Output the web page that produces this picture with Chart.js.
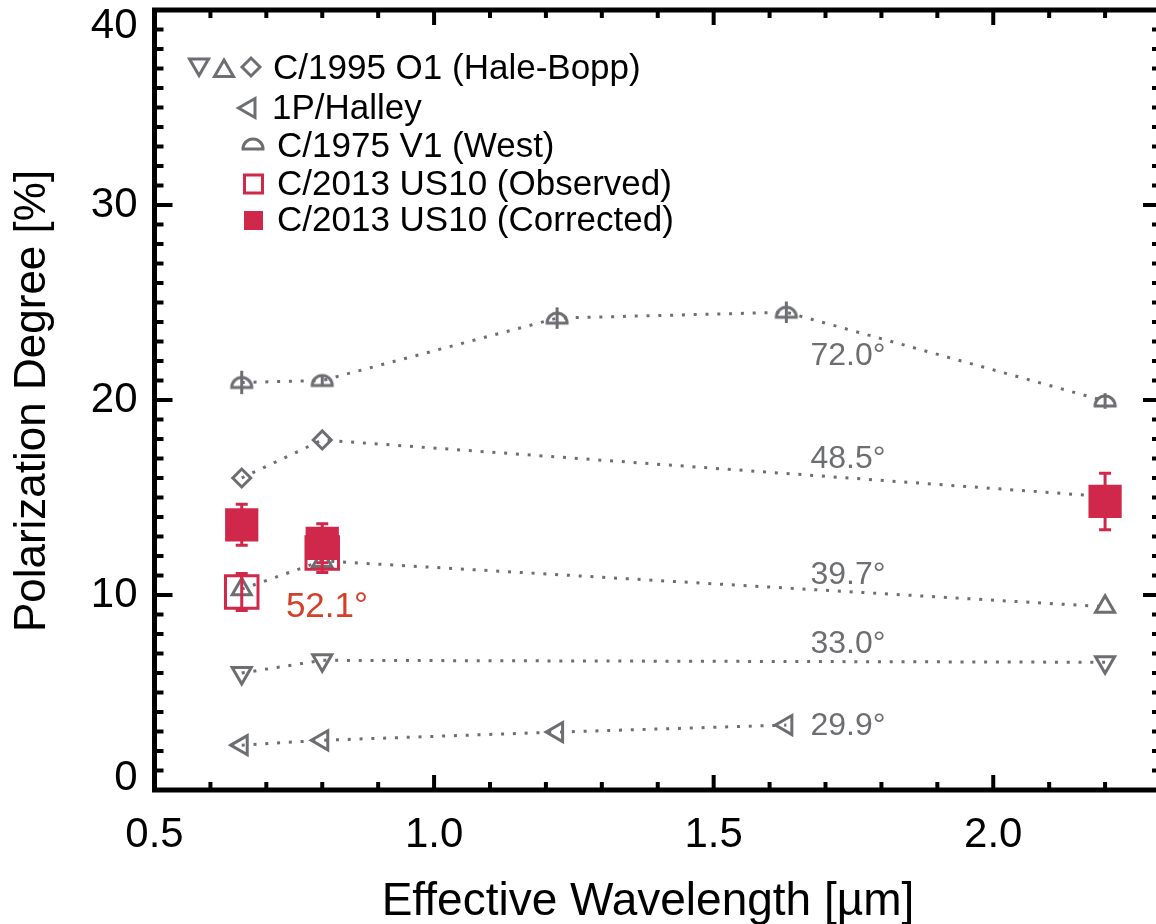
<!DOCTYPE html>
<html>
<head>
<meta charset="utf-8">
<script src="https://cdn.jsdelivr.net/npm/chart.js@4.4.1/dist/chart.umd.min.js"></script>
<style>
html, body { margin: 0; padding: 0; background: #fff; overflow: hidden; }
canvas { display: block; }
</style>
</head>
<body>
<canvas id="polChart" width="1180" height="924"></canvas>
<script>
// data (wavelength in um, polarization in %)
const westX = [0.656, 0.80, 1.22, 1.63, 2.20];
const westY = [20.9, 21.0, 24.2, 24.5, 19.95];
const westErr = [0.6, 0.25, 0.55, 0.55, 0.4];

const hbX = [0.656, 0.80, 2.20];
const hbDiamondY = [16.0, 17.95, 15.05];
const hbUpY = [10.3, 11.75, 9.4];
const hbDownY = [6.0, 6.65, 6.55];

const halleyX = [0.656, 0.80, 1.22, 1.63];
const halleyY = [2.3, 2.55, 2.97, 3.33];

const usObsX = [0.656, 0.80];
const usObsY = [10.15, 12.15];
const usObsErr = [0.95, 1.0];
const usCorrX = [0.656, 0.80, 2.20];
const usCorrY = [13.6, 12.65, 14.8];
const usCorrErr = [1.05, 1.0, 1.45];

const xTickLabels = ['0.5', '1.0', '1.5', '2.0'];
const yTickLabels = ['0', '10', '20', '30', '40'];

// phase angle notes
const phaseText = ['72.0°', '48.5°', '39.7°', '33.0°', '29.9°'];
const phaseX = [1.673, 1.673, 1.673, 1.673, 1.673];
const phaseY = [21.8, 16.5, 10.56, 7.03, 2.82];
const usPhaseText = '52.1°';
const usPhaseX = 0.735;
const usPhaseY = 8.87;

const GRAY = '#6d6e71';
const RED = '#d0284a';
const FONT = '"Liberation Sans", Arial, Helvetica, sans-serif';

function pts(xs, ys) {
    return xs.map((v, i) => ({ x: v, y: ys[i] }));
}

// half circle marker for comet West
function makeDome(color) {
    const c = document.createElement('canvas');
    c.width = 28;
    c.height = 18;
    const g = c.getContext('2d');
    g.strokeStyle = color;
    g.lineWidth = 3;
    g.beginPath();
    g.arc(14, 14, 10, Math.PI, 2 * Math.PI);
    g.closePath();
    g.stroke();
    return c;
}
const dome = makeDome(GRAY);

function grayLine(label, data, style, rot, radius) {
    return {
        label: label,
        data: data,
        showLine: true,
        borderColor: GRAY,
        borderWidth: 3,
        borderDash: [3, 8.8],
        pointStyle: style,
        rotation: rot,
        pointRadius: radius,
        pointBorderColor: GRAY,
        pointBackgroundColor: 'rgba(0,0,0,0)',
        pointBorderWidth: 3,
        order: 3
    };
}

function triangle(ctx, cx, cy, r, rotDeg) {
    let rad = rotDeg * Math.PI / 180;
    ctx.beginPath();
    for (let k = 0; k < 3; k++) {
        const px = cx + Math.sin(rad) * r;
        const py = cy - Math.cos(rad) * r;
        if (k === 0) ctx.moveTo(px, py); else ctx.lineTo(px, py);
        rad += 2 * Math.PI / 3;
    }
    ctx.closePath();
    ctx.stroke();
}

const framePlugin = {
    id: 'frame',
    afterDatasetsDraw(chart) {
        const { ctx, chartArea: a, scales: { x, y } } = chart;
        ctx.save();

        // error bars
        chart.data.datasets.forEach((ds, i) => {
            if (!ds.errs) return;
            const meta = chart.getDatasetMeta(i);
            ctx.strokeStyle = ds.errColor;
            ctx.lineWidth = 3;
            meta.data.forEach((el, j) => {
                const v = ds.data[j].y;
                const y1 = y.getPixelForValue(v + ds.errs[j]);
                const y2 = y.getPixelForValue(v - ds.errs[j]);
                ctx.beginPath();
                ctx.moveTo(el.x, y1);
                ctx.lineTo(el.x, y2);
                if (ds.errCap) {
                    ctx.moveTo(el.x - 6, y1);
                    ctx.lineTo(el.x + 6, y1);
                    ctx.moveTo(el.x - 6, y2);
                    ctx.lineTo(el.x + 6, y2);
                }
                ctx.stroke();
            });
        });

        // axis box
        ctx.strokeStyle = '#000';
        ctx.lineWidth = 5;
        ctx.strokeRect(a.left, a.top, a.right - a.left, a.bottom - a.top);

        // inward ticks on all four sides
        ctx.lineWidth = 4;
        ctx.beginPath();
        for (let i = 6; i <= 22; i++) {
            const px = x.getPixelForValue(i / 10);
            const len = i % 5 === 0 ? 15 : 8;
            ctx.moveTo(px, a.bottom);
            ctx.lineTo(px, a.bottom - len);
            ctx.moveTo(px, a.top);
            ctx.lineTo(px, a.top + len);
        }
        for (let v = 1; v < 40; v++) {
            const py = y.getPixelForValue(v);
            const len = v % 10 === 0 ? 18 : 9;
            ctx.moveTo(a.left, py);
            ctx.lineTo(a.left + len, py);
            ctx.moveTo(a.right, py);
            ctx.lineTo(a.right - len, py);
        }
        ctx.stroke();

        // tick labels
        ctx.fillStyle = '#000';
        ctx.font = '42px ' + FONT;
        ctx.textAlign = 'center';
        ctx.textBaseline = 'alphabetic';
        xTickLabels.forEach(t => {
            ctx.fillText(t, x.getPixelForValue(parseFloat(t)), a.bottom + 57);
        });
        ctx.textAlign = 'right';
        ctx.textBaseline = 'middle';
        yTickLabels.forEach(t => {
            let py = y.getPixelForValue(parseFloat(t));
            py = Math.min(Math.max(py, a.top + 16), a.bottom - 12);
            ctx.fillText(t, a.left - 17, py);
        });

        // axis titles
        ctx.textAlign = 'center';
        ctx.textBaseline = 'alphabetic';
        ctx.font = '46px ' + FONT;
        ctx.fillText('Effective Wavelength [µm]', 648, 915);
        ctx.save();
        ctx.translate(45, 401);
        ctx.rotate(-Math.PI / 2);
        ctx.font = '44px ' + FONT;
        ctx.fillText('Polarization Degree [%]', 0, 0);
        ctx.restore();

        // phase angle notes
        ctx.textAlign = 'left';
        ctx.font = '32px ' + FONT;
        ctx.fillStyle = GRAY;
        phaseText.forEach((t, i) => {
            ctx.fillText(t, x.getPixelForValue(phaseX[i]), y.getPixelForValue(phaseY[i]));
        });
        ctx.font = '35px ' + FONT;
        ctx.fillStyle = '#d2402a';
        ctx.fillText(usPhaseText, x.getPixelForValue(usPhaseX), y.getPixelForValue(usPhaseY));

        // legend
        ctx.strokeStyle = GRAY;
        ctx.lineWidth = 3;
        triangle(ctx, 199, 64.5, 11, 180);
        triangle(ctx, 224, 71, 11, 0);
        ctx.beginPath();
        ctx.moveTo(242, 67); ctx.lineTo(251, 58); ctx.lineTo(260, 67); ctx.lineTo(251, 76);
        ctx.closePath();
        ctx.stroke();
        triangle(ctx, 249.5, 108, 11, -90);
        ctx.drawImage(dome, 253 - 14, 144 - 9);
        ctx.strokeStyle = RED;
        ctx.strokeRect(244.5, 175, 18, 18);
        ctx.fillStyle = RED;
        ctx.fillRect(244, 211, 19, 19);

        ctx.fillStyle = '#000';
        ctx.font = '35px ' + FONT;
        ctx.fillText('C/1995 O1 (Hale-Bopp)', 273, 79);
        ctx.fillText('1P/Halley', 272, 119);
        ctx.fillText('C/1975 V1 (West)', 277, 157);
        ctx.fillText('C/2013 US10 (Observed)', 277, 195);
        ctx.fillText('C/2013 US10 (Corrected)', 277, 231);

        ctx.restore();
    }
};

const ctx = document.getElementById('polChart').getContext('2d');
const westSet = grayLine('C/1975 V1 (West)', pts(westX, westY), dome, 0, 10);
westSet.errs = westErr;
westSet.errColor = GRAY;

new Chart(ctx, {
    type: 'scatter',
    data: {
        datasets: [
            {
                label: 'C/2013 US10 (Corrected)',
                data: pts(usCorrX, usCorrY),
                pointStyle: 'rect',
                pointRadius: 23.5,
                pointBackgroundColor: RED,
                pointBorderColor: RED,
                pointBorderWidth: 0,
                errs: usCorrErr,
                errColor: RED,
                errCap: true,
                order: 0
            },
            {
                label: 'C/2013 US10 (Observed)',
                data: pts(usObsX, usObsY),
                pointStyle: 'rect',
                pointRadius: 23,
                pointBackgroundColor: 'rgba(0,0,0,0)',
                pointBorderColor: RED,
                pointBorderWidth: 3,
                errs: usObsErr,
                errColor: RED,
                errCap: true,
                order: 1
            },
            westSet,
            grayLine('Hale-Bopp diamond', pts(hbX, hbDiamondY), 'rectRot', 0, 9),
            grayLine('Hale-Bopp up', pts(hbX, hbUpY), 'triangle', 0, 11),
            grayLine('Hale-Bopp down', pts(hbX, hbDownY), 'triangle', 180, 11),
            grayLine('1P/Halley', pts(halleyX, halleyY), 'triangle', -90, 11)
        ]
    },
    options: {
        responsive: false,
        animation: false,
        events: [],
        layout: {
            autoPadding: false,
            padding: { left: 154.5, top: 10, right: 19, bottom: 134 }
        },
        scales: {
            x: { type: 'linear', min: 0.5, max: 2.3, display: false },
            y: { type: 'linear', min: 0, max: 40, display: false }
        },
        plugins: {
            legend: { display: false },
            tooltip: { enabled: false }
        }
    },
    plugins: [framePlugin]
});
</script>
</body>
</html>
